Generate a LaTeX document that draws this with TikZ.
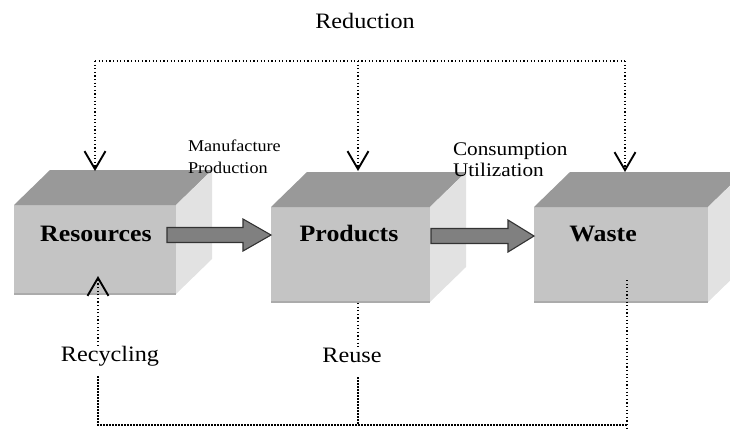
\documentclass[tikz,border=0pt]{standalone}
\usepackage{fontspec}
\setmainfont{Liberation Serif}
\newfontfamily\wideserif[FakeStretch=1.1]{Liberation Serif}
\usetikzlibrary{arrows.meta,calc}
\definecolor{topface}{HTML}{999999}
\definecolor{frontface}{HTML}{C4C4C4}
\definecolor{sideface}{HTML}{E2E2E2}
\definecolor{edgeline}{HTML}{ABABAB}
\definecolor{arrowfill}{HTML}{808080}
\definecolor{arrowedge}{HTML}{333333}
\newcommand\drawcube[1]{%
  \fill[topface] (#1.north west) -- ++(36,-35) -- ($(#1.north east)+(36,-35)$) -- (#1.north east) -- cycle;
  \fill[sideface] (#1.north east) -- ++(36,-35) -- ($(#1.south east)+(36,-35)$) -- (#1.south east) -- cycle;
  \draw[edgeline, line width=1.6pt] (#1.south west) -- (#1.south east);
}
\newcommand\blockarrow[3]{% start, end, head length
  \draw[blockarr] ($(#1)+(0,-7.5)$) -- ($(#2)+(-#3,-7.5)$) -- ($(#2)+(-#3,-16)$) -- (#2)
    -- ($(#2)+(-#3,16)$) -- ($(#2)+(-#3,7.5)$) -- ($(#1)+(0,7.5)$) -- cycle;
}
\begin{document}
\begin{tikzpicture}[x=1pt,y=-1pt,
  cubefront/.style={rectangle, fill=frontface, inner sep=0, outer sep=0},
  cubelabel/.style={font=\wideserif\bfseries\fontsize{23.5}{26}\selectfont, inner sep=0, outer sep=0, anchor=base},
  biglabel/.style={font=\wideserif\fontsize{22}{26}\selectfont, inner sep=0, outer sep=0, anchor=base},
  thindot/.style={line width=1.2pt, dash pattern=on 1.2pt off 2.4pt},
  thickdot/.style={line width=2.8pt, dash pattern=on 1.9pt off 1.1pt},
  vtip/.style={-{Straight Barb[length=18pt,width=21pt,line width=1.9pt]}},
  blockarr/.style={fill=arrowfill, draw=arrowedge, line width=1.1pt, line join=miter}
]
\useasboundingbox (0,0) rectangle (730,432);
\clip (0,0) rectangle (730,432);

% cubes
\node[cubefront, minimum width=162, minimum height=89] (res) at (95,249.5) {};
\node[cubefront, minimum width=159, minimum height=95] (prod) at (350.5,254.5) {};
\node[cubefront, minimum width=174, minimum height=95] (waste) at (621,254.5) {};
\drawcube{res}
\drawcube{prod}
\drawcube{waste}

\node[cubelabel] (resL) at (96,241) {Resources};
\node[cubelabel] (prodL) at (349,241) {Products};
\node[cubelabel] (wasteL) at (603,241.5) {Waste};

% block arrows
\coordinate (m1s) at (167,235);
\coordinate (m1e) at (prod.west |- m1s);
\blockarrow{m1s}{m1e}{28}
\coordinate (m2s) at (431,236);
\coordinate (m2e) at (waste.west |- m2s);
\blockarrow{m2s}{m2e}{26}

% texts
\node[biglabel] (redtitle) at (365,28) {Reduction};
\node[anchor=north west, align=left, inner sep=0, outer sep=0,
      font=\wideserif\fontsize{16.5}{22}\selectfont] (mfg) at (188,139.5) {Manufacture\\Production};
\node[anchor=north west, align=left, inner sep=0, outer sep=0,
      font=\wideserif\fontsize{19.3}{21}\selectfont] (cons) at (453,143) {Consumption\\Utilization};
\node[biglabel] (recy) at (110,361) {Recycling};
\node[biglabel] (reuse) at (352,362) {Reuse};

% reduction connectors
\coordinate (rd1) at (95,61);
\coordinate (rd2) at (358,61);
\coordinate (rd3) at (625,61);
\coordinate (resin) at (95,171);
\coordinate (prodin) at (358,171);
\coordinate (wastein) at (625,172);
\draw[thindot] (rd1) -- (rd3);
\draw[thindot, vtip] (rd1) -- (resin);
\draw[thindot, vtip] (rd2) -- (prodin);
\draw[thindot, vtip] (rd3) -- (wastein);

% recycling / reuse loop
\coordinate (resout) at (98,276);
\coordinate (rcLow) at (98,376);
\coordinate (cnr1) at (98,425);
\coordinate (cnr2) at (627,425);
\coordinate (prodout) at (358,303);
\coordinate (ruLow) at (358,377);
\coordinate (ruJoin) at (358,425);
\coordinate (wasteout) at (627,280);
\coordinate (wasteend) at (627,430);
\draw[thindot, vtip] (resout |- recy.north) -- (resout);
\draw[thickdot] (rcLow) -- (cnr1) -- (cnr2);
\draw[thindot] (prodout) -- (prodout |- reuse.north);
\draw[thickdot] (ruLow) -- (ruJoin);
\draw[thindot] (wasteout) -- (wasteend);
\end{tikzpicture}
\end{document}
